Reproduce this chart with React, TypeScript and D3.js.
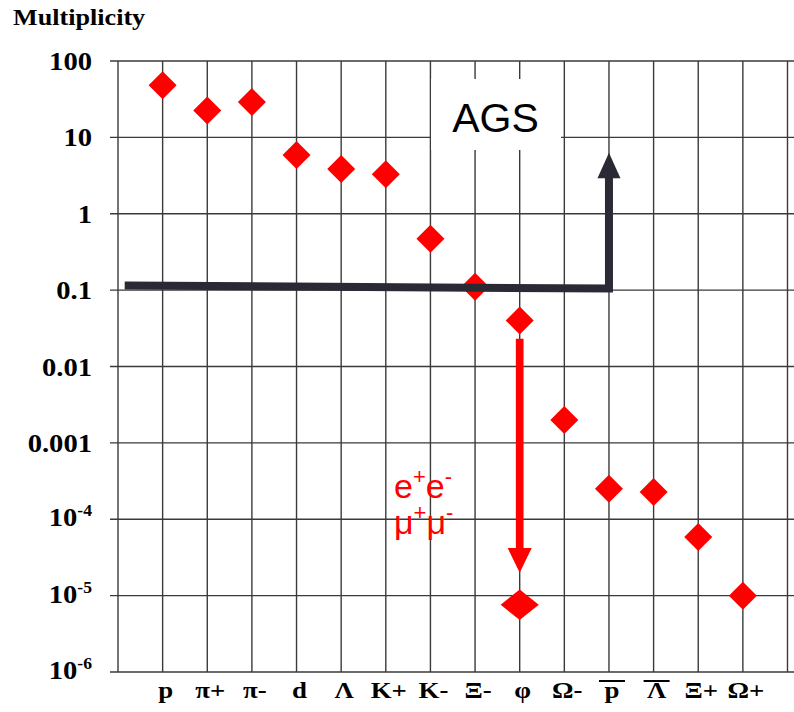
import React from "react";
import * as d3 from "d3";

// ---- data ----
const categories = ["p", "π+", "π-", "d", "Λ", "K+", "K-", "Ξ-", "φ", "Ω-", "p", "Λ", "Ξ+", "Ω+"];
const overlined = [false, false, false, false, false, false, false, false, false, false, true, true, false, false];
const multiplicity = [48, 22.5, 29, 5.9, 3.85, 3.3, 0.47, 0.111, 0.04, 0.002, 2.5e-4, 2.27e-4, 5.85e-5, 1.0e-5];
const dileptonIndex = 8;
const dileptonValue = 7.6e-6;
const yTickValues = [100, 10, 1, 0.1, 0.01, 0.001, 1e-4, 1e-5, 1e-6];
const yTickBase = ["100", "10", "1", "0.1", "0.01", "0.001", "10", "10", "10"];
const yTickExp = ["", "", "", "", "", "", "-4", "-5", "-6"];

const W = 794;
const H = 712;
const axisX = 118;
const top = 61;
const bottom = 672;

const serif = "'Liberation Serif', 'Times New Roman', serif";
const sans = "'Liberation Sans', Arial, sans-serif";

export default function App() {
  const x = d3.scaleLinear().domain([-1, 14]).range([axisX, 787.5]);
  const y = d3.scaleLog().domain([1e-6, 100]).range([bottom, top]);
  const gridIdx = d3.range(0, 15);
  const diamond = d3.symbol(d3.symbolSquare, 392)();
  const bigDiamond = d3.symbol(d3.symbolSquare, 400)();

  // annotation arrows (in data space)
  const agsLeft = x(-0.85);
  const agsRight = x(10);
  const agsY0 = y(0.115);
  const agsY1 = y(0.105);
  const agsTop = y(3.0);
  const agsTip = y(6.3);
  const redX = x(dileptonIndex);
  const redY0 = y(0.023);
  const redHead = y(4.2e-5);
  const redTip = y(2.0e-5);

  return (
    <svg width={W} height={H} style={{ position: "absolute", left: 0, top: 0, background: "#fff" }}>
      <rect x={0} y={0} width={W} height={H} fill="#fff" />
      {/* horizontal grid lines */}
      {yTickValues.map((v, i) => (
        <line key={"h" + i} x1={110} x2={W} y1={y(v)} y2={y(v)} stroke="#3a3a3a" strokeWidth={1.4} />
      ))}
      {/* y axis */}
      <line x1={axisX} x2={axisX} y1={top} y2={bottom} stroke="#3a3a3a" strokeWidth={1.4} />
      {/* vertical grid lines */}
      {gridIdx.map((i) => (
        <line key={"v" + i} x1={x(i)} x2={x(i)} y1={top} y2={bottom} stroke="#3a3a3a" strokeWidth={1.4} />
      ))}
      {/* AGS label box */}
      <rect x={431} y={79} width={130} height={71} fill="#fff" />
      <text x={495.5} y={132} fontFamily={sans} fontSize={41} textAnchor="middle" fill="#000">AGS</text>

      {/* y tick labels */}
      {yTickValues.map((v, i) => (
        <g key={"yt" + i} transform={`translate(92,${y(v) + (yTickExp[i] ? 7 : 9)}) scale(1.1,1)`}>
          <text x={0} y={0} textAnchor="end" fontFamily={serif} fontWeight="bold" fontSize={26} fill="#000">
            {yTickBase[i]}
            {yTickExp[i] ? (
              <tspan fontSize={16} dy={-10}>{yTickExp[i]}</tspan>
            ) : null}
          </text>
        </g>
      ))}
      <g transform="translate(13,25) scale(1.09,1)">
        <text x={0} y={0} fontFamily={serif} fontWeight="bold" fontSize={24} fill="#000">Multiplicity</text>
      </g>

      {/* x labels */}
      {categories.map((c, i) => (
        <g key={"xl" + i}>
          <g transform={`translate(${x(i) + 3},698) scale(1.12,1)`}>
            <text x={0} y={0} textAnchor="middle" fontFamily={serif} fontWeight="bold" fontSize={24} fill="#000">{c}</text>
          </g>
          {overlined[i] ? (
            <line x1={x(i) + 3 - 13} x2={x(i) + 3 + 13} y1={681} y2={681} stroke="#000" strokeWidth={2} />
          ) : null}
        </g>
      ))}

      {/* data diamonds */}
      {multiplicity.map((v, i) => (
        <path key={"d" + i} d={diamond!} transform={`translate(${x(i)},${y(v)}) rotate(45)`} fill="#ff0000" />
      ))}
      <path d={bigDiamond!} transform={`translate(${x(dileptonIndex)},${y(dileptonValue)}) scale(1.35,1.08) rotate(45)`} fill="#ff0000" />

      {/* AGS arrow */}
      <polyline points={`${agsLeft},${agsY0} ${agsRight},${agsY1} ${agsRight},${agsTop}`} fill="none" stroke="#2a2a35" strokeWidth={8} strokeLinejoin="miter" />
      <polygon points={`${agsRight - 11.5},${agsTop + 1} ${agsRight + 11.5},${agsTop + 1} ${agsRight},${agsTip}`} fill="#2a2a35" />

      {/* red dilepton arrow */}
      <line x1={redX} x2={redX} y1={redY0} y2={redHead + 1} stroke="#ff0000" strokeWidth={7.7} />
      <polygon points={`${redX - 12},${redHead} ${redX + 12},${redHead} ${redX},${redTip}`} fill="#ff0000" />

      <text x={394} y={498} fontFamily={sans} fontSize={34} fill="#ff0000">
        e<tspan fontSize={22} dy={-14}>+</tspan><tspan dy={14}>e</tspan><tspan fontSize={22} dy={-14}>-</tspan>
      </text>
      <text x={394} y={534} fontFamily={sans} fontSize={34} fill="#ff0000">
        μ<tspan fontSize={22} dy={-14}>+</tspan><tspan dy={14}>μ</tspan><tspan fontSize={22} dy={-14}>-</tspan>
      </text>
    </svg>
  );
}
